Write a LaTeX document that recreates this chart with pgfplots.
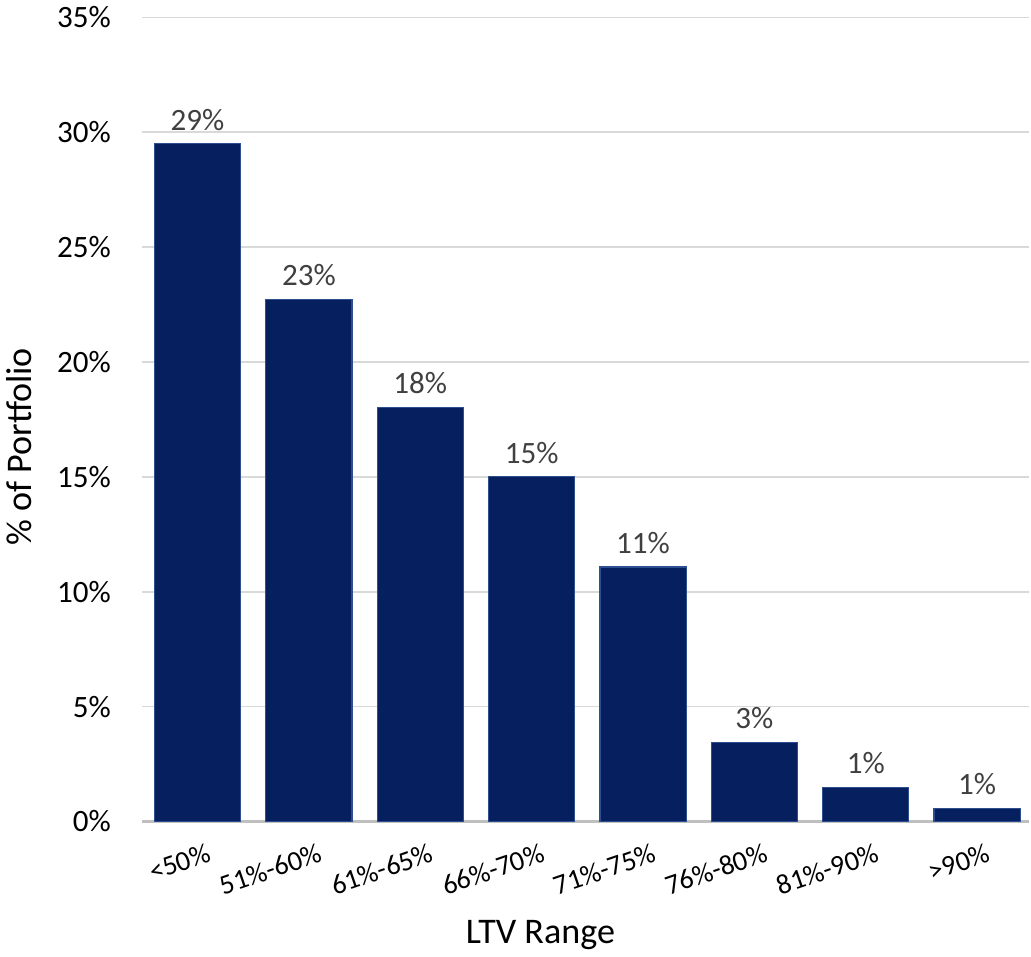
\documentclass[border=0pt]{standalone}
\usepackage{fontspec}
\setmainfont{Carlito}
\usepackage{pgfplots}
\pgfplotsset{compat=1.18}
\definecolor{barblue}{HTML}{06205F}
\definecolor{baredge}{HTML}{2E4F8F}
\definecolor{gridgray}{HTML}{D9D9D9}
\definecolor{axisgray}{HTML}{BFBFBF}
\definecolor{labelgray}{HTML}{404040}

\begin{document}
\begin{tikzpicture}
\begin{axis}[
    scale only axis,
    width=443pt,
    height=401.3pt,
    ybar,
    bar width=43pt,
    xmin=-0.5, xmax=7.47,
    ymin=0, ymax=35,
    ytick={0,5,...,35},
    yticklabel={\pgfmathprintnumber{\tick}\%},
    xtick=data,
    xticklabels={<50\%,51\%-60\%,61\%-65\%,66\%-70\%,71\%-75\%,76\%-80\%,81\%-90\%,>90\%},
    /pgf/number format/assume math mode=true,
    tick label style={font=\fontsize{15.5}{18}\selectfont},
    xticklabel style={font=\fontsize{14}{16}\selectfont, rotate=19, anchor=north east, yshift=-8pt, xshift=4pt},
    yticklabel style={xshift=-12pt},
    major tick length=0pt,
    ymajorgrids,
    grid style={gridgray, line width=0.8pt},
    axis y line*=left,
    axis x line*=bottom,
    y axis line style={draw=none},
    x axis line style={axisgray, line width=1.5pt},
    xlabel={LTV Range},
    ylabel={\% of Portfolio},
    label style={font=\fontsize{18}{21}\selectfont},
    xlabel style={at={(axis description cs:0.449,0)}, anchor=north, yshift=-46pt},
    ylabel style={at={(axis description cs:-0.138,0.466)}, anchor=center},
    nodes near coords,
    point meta=explicit symbolic,
    every node near coord/.append style={font=\fontsize{15.5}{18}\selectfont, color=labelgray, anchor=south, yshift=3pt},
]
\addplot[fill=barblue, draw=baredge, line width=0.6pt] coordinates {
    (0,29.5) [29\%]
    (1,22.73) [23\%]
    (2,18.02) [18\%]
    (3,15.0) [15\%]
    (4,11.08) [11\%]
    (5,3.45) [3\%]
    (6,1.48) [1\%]
    (7,0.57) [1\%]
};
\end{axis}
\end{tikzpicture}
\end{document}
